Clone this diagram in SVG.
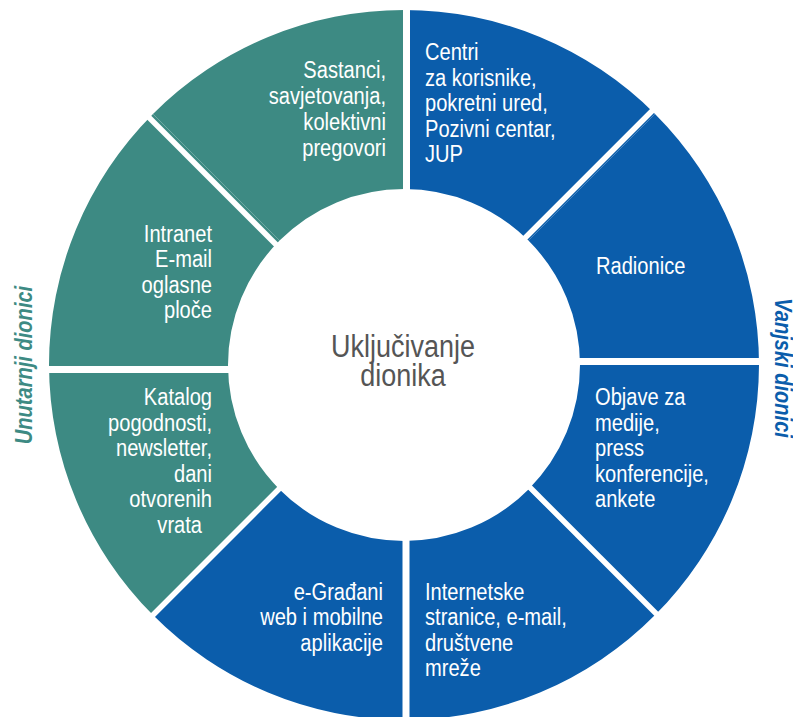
<svg xmlns="http://www.w3.org/2000/svg" width="793" height="717" viewBox="0 0 793 717">
<style>
.teal{fill:#3d8a83}
.blue{fill:#0b5dab}
.lbl{font-family:"Liberation Sans",Arial,sans-serif;font-size:23.5px;fill:#ffffff}
.end{text-anchor:end}
.ctr{font-family:"Liberation Sans",Arial,sans-serif;font-size:31px;fill:#555555;text-anchor:middle}
.side{font-family:"Liberation Sans",Arial,sans-serif;font-size:24.5px;font-weight:bold;font-style:italic;text-anchor:middle}
.div{stroke:#ffffff;fill:none}
</style>
<rect width="793" height="717" fill="#ffffff"/>
<g id="segments">
<g id="seg-centri">
<path class="blue" d="M404,10 A355,355 0 0 1 655.02,113.98 L528.45,240.55 A176,176 0 0 0 404,189 Z"/>
<g transform="translate(425,0) scale(0.855,1)"><text class="lbl"><tspan x="0" y="60.5">Centri</tspan><tspan x="0" y="86">za korisnike,</tspan><tspan x="0" y="111.5">pokretni ured,</tspan><tspan x="0" y="137">Pozivni centar,</tspan><tspan x="0" y="162.5">JUP</tspan></text></g>
</g>
<g id="seg-radionice">
<path class="blue" d="M655.02,113.98 A355,355 0 0 1 759,365 L580,365 A176,176 0 0 0 528.45,240.55 Z"/>
<g transform="translate(596,0) scale(0.855,1)"><text class="lbl" x="0" y="274">Radionice</text></g>
</g>
<g id="seg-objave">
<path class="blue" d="M759,365 A355,355 0 0 1 655.02,615.02 L528.45,489.45 A176,176 0 0 0 580,365 Z"/>
<g transform="translate(595,0) scale(0.855,1)"><text class="lbl"><tspan x="0" y="405.2">Objave za</tspan><tspan x="0" y="430.7">medije,</tspan><tspan x="0" y="456.2">press</tspan><tspan x="0" y="481.7">konferencije,</tspan><tspan x="0" y="507.2">ankete</tspan></text></g>
</g>
<g id="seg-internetske">
<path class="blue" d="M655.02,615.02 A355,355 0 0 1 404,720 L404,541 A176,176 0 0 0 528.45,489.45 Z"/>
<g transform="translate(425,0) scale(0.855,1)"><text class="lbl"><tspan x="0" y="600">Internetske</tspan><tspan x="0" y="625.5">stranice, e-mail,</tspan><tspan x="0" y="651">društvene</tspan><tspan x="0" y="676.5">mreže</tspan></text></g>
</g>
<g id="seg-egradani">
<path class="blue" d="M404,720 A355,355 0 0 1 152.98,615.02 L279.55,489.45 A176,176 0 0 0 404,541 Z"/>
<g transform="translate(383,0) scale(0.855,1)"><text class="lbl end"><tspan x="0" y="600">e-Građani</tspan><tspan x="0" y="625.5">web i mobilne</tspan><tspan x="0" y="651">aplikacije</tspan></text></g>
</g>
<g id="seg-katalog">
<path class="teal" d="M152.98,615.02 A355,355 0 0 1 49,365 L228,365 A176,176 0 0 0 279.55,489.45 Z"/>
<g transform="translate(212,0) scale(0.855,1)"><text class="lbl end"><tspan x="0" y="405.2">Katalog</tspan><tspan x="0" y="430.7">pogodnosti,</tspan><tspan x="0" y="456.2">newsletter,</tspan><tspan x="0" y="481.7">dani</tspan><tspan x="0" y="507.2">otvorenih</tspan><tspan x="-11.7" y="532.7">vrata</tspan></text></g>
</g>
<g id="seg-intranet">
<path class="teal" d="M49,365 A355,355 0 0 1 152.98,113.98 L279.55,240.55 A176,176 0 0 0 228,365 Z"/>
<g transform="translate(212,0) scale(0.855,1)"><text class="lbl end"><tspan x="0" y="241.7">Intranet</tspan><tspan x="0" y="267.2">E-mail</tspan><tspan x="0" y="292.7">oglasne</tspan><tspan x="0" y="318.2">ploče</tspan></text></g>
</g>
<g id="seg-sastanci">
<path class="teal" d="M152.98,113.98 A355,355 0 0 1 404,10 L404,189 A176,176 0 0 0 279.55,240.55 Z"/>
<g transform="translate(386,0) scale(0.855,1)"><text class="lbl end"><tspan x="0" y="78">Sastanci,</tspan><tspan x="0" y="104">savjetovanja,</tspan><tspan x="0" y="130">kolektivni</tspan><tspan x="0" y="156">pregovori</tspan></text></g>
</g>
</g>
<g id="dividers">
<line class="div" stroke-width="7" x1="406.5" y1="0" x2="406.5" y2="200"/>
<line class="div" stroke-width="7" x1="406" y1="530" x2="406" y2="717"/>
<line class="div" stroke-width="7" x1="570" y1="361.5" x2="775" y2="361.5"/>
<line class="div" stroke-width="7" x1="35" y1="369.5" x2="240" y2="369.5"/>
<line class="div" stroke-width="5.5" x1="515" y1="248" x2="665" y2="98"/>
<line class="div" stroke-width="5.5" x1="520" y1="477.5" x2="665" y2="622.5"/>
<line class="div" stroke-width="5.5" x1="285" y1="483" x2="140" y2="628"/>
<line class="div" stroke-width="5.5" x1="140" y1="108.5" x2="285" y2="253.5"/>
</g>
<g id="center">
<g transform="translate(403,0) scale(0.87,1)"><text class="ctr"><tspan x="0" y="357">Uključivanje</tspan><tspan x="0" y="386">dionika</tspan></text></g>
</g>
<g id="side-labels">
<text class="side" fill="#3d8a83" transform="translate(32,365) rotate(-90) scale(0.82,1)">Unutarnji dionici</text>
<text class="side" fill="#0b5dab" transform="translate(775,368) rotate(90) scale(0.82,1)">Vanjski dionici</text>
</g>
</svg>
